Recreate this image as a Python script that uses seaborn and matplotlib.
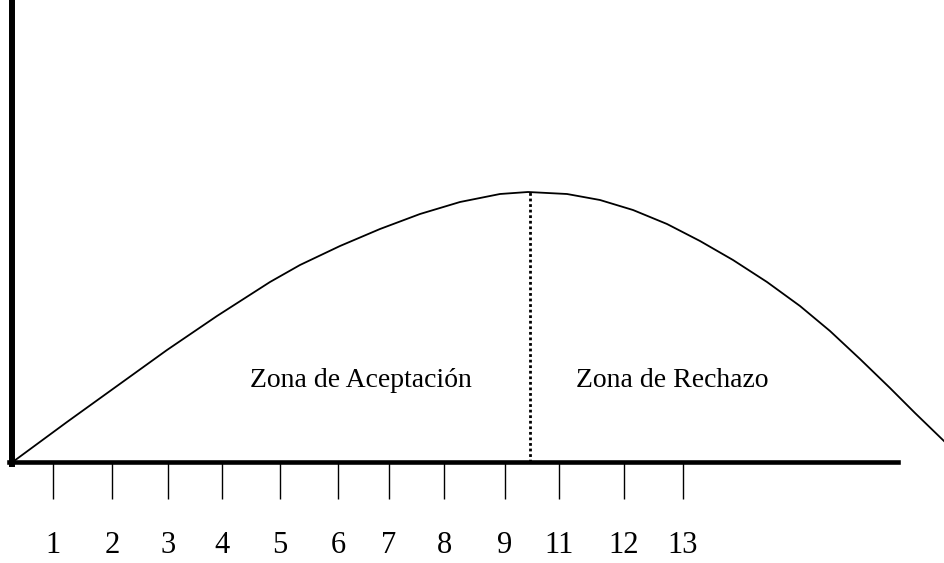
import seaborn as sns
import matplotlib.pyplot as plt
import matplotlib

matplotlib.use("Agg")

# curve (origin at the corner of the axes)
curve_x = [2, 55, 105, 155, 205, 258, 288, 328, 368, 408, 448, 488, 516,
           555, 588, 621, 655, 688, 721, 755, 788, 818, 848, 878, 903, 933]
curve_y = [1, 40, 76, 112, 146, 180, 197, 216, 233, 248, 260, 268, 270,
           268, 262, 252, 238, 221, 202, 180, 156, 131, 103, 74, 49, 20]

peak_x = 518
peak_y = 270

tick_pos = [41, 100, 156, 210, 268, 326, 377, 432, 493, 547, 612, 671]
tick_labels = ["1", "2", "3", "4", "5", "6", "7", "8", "9", "11", "12", "13"]

zone_labels = ["Zona de Aceptación", "Zona de Rechazo"]
zone_x = [349, 660]
zone_y = 75

sns.set_theme(style="white")
plt.rcParams['font.family'] = ['Liberation Serif', 'DejaVu Serif']

fig = plt.figure(figsize=(9.44, 5.63), dpi=100)
ax = fig.add_axes([0, 0, 1, 1])
ax.set_facecolor("white")

sns.lineplot(x=curve_x, y=curve_y, color="black", linewidth=1.3,
             estimator=None, sort=False, ax=ax)

# dotted divider under the peak
ax.plot([peak_x, peak_x], [0, peak_y], color="black", linewidth=2.0,
        linestyle=(0, (1, 1)))

for lab, zx in zip(zone_labels, zone_x):
    ax.text(zx, zone_y, lab, ha="center", va="baseline", fontsize=20,
            color="black")

ax.set_xlim(-12, 932)
ax.set_ylim(-101, 462)

for side in ["top", "right"]:
    ax.spines[side].set_visible(False)
ax.spines["left"].set_position(("data", 0))
ax.spines["bottom"].set_position(("data", 0))
ax.spines["left"].set_linewidth(4.3)
ax.spines["bottom"].set_linewidth(3.3)
ax.spines["left"].set_color("black")
ax.spines["bottom"].set_color("black")
ax.spines["left"].set_bounds(-2, 462)
ax.spines["bottom"].set_bounds(-3, 886)

ax.set_xticks(tick_pos)
ax.set_xticklabels(tick_labels)
ax.set_yticks([])
ax.tick_params(axis="x", direction="out", length=26.5, width=1.0,
               color="black", labelsize=22, labelcolor="black", pad=23.5,
               bottom=True)
ax.grid(False)

plt.savefig("out.png", dpi=100)
